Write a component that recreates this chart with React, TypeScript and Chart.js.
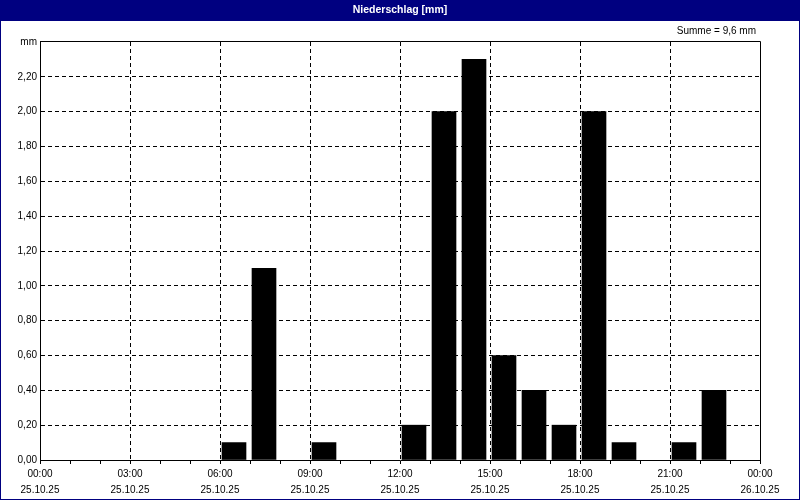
import React, { useEffect, useRef } from "react";
import { Chart, registerables } from "chart.js";

Chart.register(...registerables);

const TITLE = "Niederschlag [mm]";
const hours = [0, 1, 2, 3, 4, 5, 6, 7, 8, 9, 10, 11, 12, 13, 14, 15, 16, 17, 18, 19, 20, 21, 22, 23];
const rain = [0, 0, 0, 0, 0, 0, 0.1, 1.1, 0, 0.1, 0, 0, 0.2, 2.0, 2.3, 0.6, 0.4, 0.2, 2.0, 0.1, 0, 0.1, 0.4, 0];
const timeLabels = ["00:00", "03:00", "06:00", "09:00", "12:00", "15:00", "18:00", "21:00", "00:00"];
const dateLabels = ["25.10.25", "25.10.25", "25.10.25", "25.10.25", "25.10.25", "25.10.25", "25.10.25", "25.10.25", "26.10.25"];
const yMax = 2.4;
const yUnit = "mm";

const NAVY = "#000080";
const FONT = "'Liberation Sans', Arial, sans-serif";

const framePlugin = {
  id: "frame",
  beforeDraw(chart: any) {
    const ctx = chart.ctx;
    ctx.save();
    ctx.fillStyle = "#ffffff";
    ctx.fillRect(0, 0, chart.width, chart.height);
    ctx.restore();
  },
  afterDraw(chart: any) {
    const ctx = chart.ctx;
    const { left, right, top, bottom } = chart.chartArea;
    ctx.save();
    // plot frame (top and right edges; left/bottom are the axis borders)
    ctx.strokeStyle = "#000";
    ctx.lineWidth = 1;
    ctx.setLineDash([]);
    const t = Math.round(top) - 1 + 0.5;
    const r = Math.round(right) + 0.5;
    ctx.beginPath();
    ctx.moveTo(Math.round(left), t);
    ctx.lineTo(r, t);
    ctx.lineTo(r, Math.round(bottom) + 1);
    ctx.stroke();
    // title bar
    ctx.fillStyle = NAVY;
    ctx.fillRect(0, 0, chart.width, 21);
    ctx.fillStyle = "#fff";
    ctx.font = `bold 10.5px ${FONT}`;
    ctx.textAlign = "center";
    ctx.textBaseline = "middle";
    ctx.fillText(TITLE, chart.width / 2, 10.5);
    // outer border
    ctx.strokeStyle = NAVY;
    ctx.strokeRect(0.5, 0.5, chart.width - 1, chart.height - 1);
    // sum text
    const sum = rain.reduce((a, b) => a + b, 0);
    ctx.fillStyle = "#000";
    ctx.font = `10px ${FONT}`;
    ctx.textAlign = "right";
    ctx.fillText(`Summe = ${sum.toFixed(1).replace(".", ",")} mm`, 756, 31);
    ctx.restore();
  },
};

export default function App() {
  const ref = useRef<HTMLCanvasElement | null>(null);
  useEffect(() => {
    if (!ref.current) return;
    const chart = new Chart(ref.current, {
      type: "bar",
      data: {
        datasets: [
          {
            data: hours.map((h, i) => ({ x: h + 14 / 30, y: rain[i] > 0 ? rain[i] : null })),
            backgroundColor: "#000",
            borderWidth: 0,
            barThickness: 24,
          },
        ],
      },
      options: {
        animation: false,
        responsive: false,
        devicePixelRatio: 1,
        layout: { padding: { left: 0, right: 40, top: 42, bottom: 0 } },
        plugins: { legend: { display: false }, tooltip: { enabled: false }, title: { display: false } },
        scales: {
          x: {
            type: "linear",
            min: 0,
            max: 24,
            offset: false,
            afterFit: (s: any) => {
              s.height = 40;
            },
            grid: {
              offset: false,
              color: (c: any) =>
                c.tick && c.tick.value % 3 === 0 && c.tick.value > 0 && c.tick.value < 24 ? "#000" : "rgba(0,0,0,0)",
              tickColor: "#000",
              tickLength: 4,
              tickBorderDash: [],
              drawTicks: true,
            },
            border: { display: true, color: "#000", width: 1, dash: [4, 3] },
            ticks: {
              stepSize: 1,
              autoSkip: false,
              maxRotation: 0,
              padding: 2,
              color: "#000",
              font: { family: FONT, size: 10, lineHeight: 1.6 },
              callback: (v: any) => {
                const n = Number(v);
                if (n % 3 !== 0) return "";
                const i = n / 3;
                return [timeLabels[i], dateLabels[i]];
              },
            },
          },
          y: {
            min: 0,
            max: yMax,
            afterFit: (s: any) => {
              s.width = 40;
            },
            grid: {
              color: (c: any) =>
                c.tick && c.tick.value > 0 && Math.abs(c.tick.value - yMax) > 1e-6 ? "#000" : "rgba(0,0,0,0)",
              drawTicks: false,
            },
            border: { display: true, color: "#000", width: 1, dash: [4, 3] },
            ticks: {
              stepSize: 0.2,
              padding: 3,
              color: "#000",
              font: { family: FONT, size: 10 },
              callback: (v: any) => {
                const n = Number(v);
                if (Math.abs(n - yMax) < 1e-6) return yUnit;
                return n.toFixed(2).replace(".", ",");
              },
            },
          },
        },
      },
      plugins: [framePlugin],
    } as any);
    return () => chart.destroy();
  }, []);
  return (
    <div style={{ position: "fixed", left: 0, top: 0, width: 800, height: 500 }}>
      <canvas ref={ref} width={800} height={500} style={{ display: "block" }} />
    </div>
  );
}
